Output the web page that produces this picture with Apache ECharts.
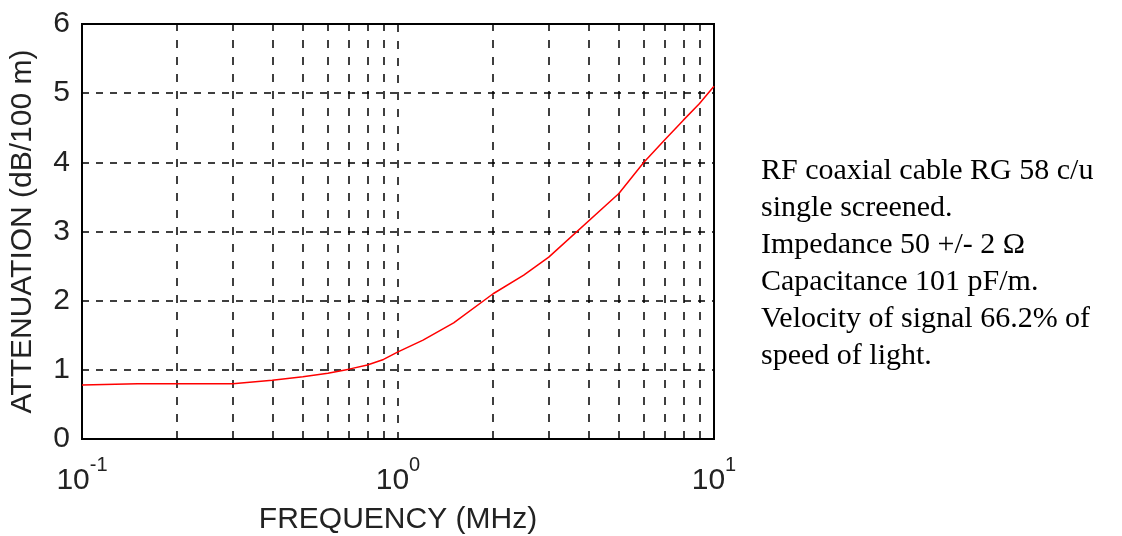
<!DOCTYPE html>
<html>
<head>
<meta charset="utf-8">
<title>RG 58 attenuation</title>
<script src="https://cdn.jsdelivr.net/npm/echarts@6/dist/echarts.min.js"></script>
<style>
  html, body { margin: 0; padding: 0; background: #fff; }
  #chart { width: 1122px; height: 536px; }
</style>
</head>
<body>
<div id="chart"></div>
<script>
// 频率 (MHz) 和 衰减 (dB/100 m)
const freqMHz = [0.1, 0.15, 0.3, 0.4, 0.5, 0.6, 0.7, 0.8, 0.9, 1, 1.2, 1.5, 2, 2.5, 3, 5, 6, 7, 8, 9, 10]
const attenuation = [0.78, 0.8, 0.8, 0.85, 0.9, 0.95, 1.01, 1.07, 1.15, 1.26, 1.43, 1.68, 2.1, 2.37, 2.63, 3.55, 4.0, 4.33, 4.61, 4.85, 5.1]

// 对数轴上的次网格线 2..9
const minorGrid = [0.2, 0.3, 0.4, 0.5, 0.6, 0.7, 0.8, 0.9, 2, 3, 4, 5, 6, 7, 8, 9]
const yTicks = [0, 1, 2, 3, 4, 5, 6]

const noteLines = [
  'RF coaxial cable RG 58 c/u',
  'single screened.',
  'Impedance 50 +/- 2 \u03A9',
  'Capacitance 101 pF/m.',
  'Velocity of signal 66.2% of',
  'speed of light.'
]

const sans = 'Liberation Sans, Arial, sans-serif'
const gridDash = { color: '#000', width: 1.5, type: [7, 7] }

let myChart = echarts.init(document.getElementById('chart'))
let option = {
  animation: false,
  grid: {
    left: 82,
    top: 24,
    right: 408,
    bottom: 97,
    outerBoundsMode: 'none',
    containLabel: false,
    show: true,
    borderColor: '#000',
    borderWidth: 2
  },
  xAxis: {
    type: 'log',
    logBase: 10,
    min: 0.1,
    max: 10,
    name: 'FREQUENCY (MHz)',
    nameLocation: 'middle',
    nameGap: 66,
    nameTextStyle: { fontFamily: sans, fontSize: 30, color: '#222' },
    axisLine: { show: false },
    axisTick: { show: false },
    splitLine: { show: true, lineStyle: { color: '#000', width: 1.5, type: [8, 9] } },
    axisLabel: {
      showMinLabel: true,
      showMaxLabel: true,
      margin: 16,
      formatter: function (v) {
        let key = Math.round(Math.log10(v))
        return '{b|10}{s|' + key + '}'
      },
      rich: {
        b: { fontFamily: sans, fontSize: 30, color: '#222' },
        s: { fontFamily: sans, fontSize: 20, color: '#222', padding: [0, 0, 32, 0] }
      }
    }
  },
  yAxis: {
    type: 'value',
    min: yTicks[0],
    max: yTicks[yTicks.length - 1],
    interval: 1,
    name: 'ATTENUATION (dB/100 m)',
    nameLocation: 'middle',
    nameGap: 44,
    nameTextStyle: { fontFamily: sans, fontSize: 30, color: '#222' },
    axisLine: { show: false },
    axisTick: { show: false },
    splitLine: { show: true, lineStyle: gridDash },
    axisLabel: { fontFamily: sans, fontSize: 30, color: '#222', margin: 12 }
  },
  series: [
    {
      type: 'line',
      data: freqMHz.map((f, i) => [f, attenuation[i]]),
      showSymbol: false,
      silent: true,
      lineStyle: { color: '#ff0000', width: 1.5 },
      markLine: {
        silent: true,
        symbol: 'none',
        label: { show: false },
        lineStyle: { color: '#000', width: 1.5, type: [8, 9] },
        data: minorGrid.map((v) => ({ xAxis: v }))
      },
      z: 5
    }
  ],
  graphic: [
    {
      type: 'text',
      left: 761,
      top: 153,
      style: {
        text: noteLines.join('\n'),
        font: '30px "Liberation Serif", "Times New Roman", serif',
        lineHeight: 37,
        fill: '#000'
      }
    }
  ]
}

option && myChart.setOption(option)
</script>
</body>
</html>
